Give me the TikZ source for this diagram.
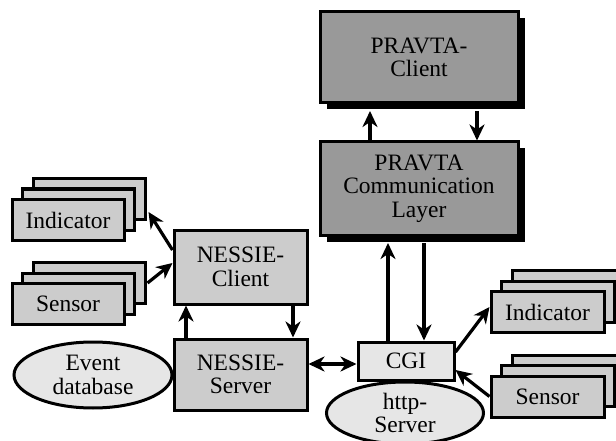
\documentclass[tikz,border=0pt]{standalone}
\usepackage{fontspec}
\setmainfont{Liberation Serif}
\usepackage{tikz}
\usetikzlibrary{arrows.meta, shapes.geometric, shadows}
\definecolor{darkbox}{HTML}{999999}
\definecolor{midbox}{HTML}{CCCCCC}
\definecolor{palebox}{HTML}{E6E6E6}

\begin{document}
\begin{tikzpicture}[x=1pt, y=-1pt,
    font=\fontsize{23.5}{23.5}\selectfont,
    every node/.style={align=center, inner sep=0pt, line width=3pt, draw=black},
    pravta/.style={rectangle, fill=darkbox, minimum width=198pt,
      drop shadow={opacity=1, fill=black, shadow xshift=6.5pt, shadow yshift=-6.5pt}},
    nessie/.style={rectangle, fill=midbox, minimum width=133pt},
    device/.style={rectangle, fill=midbox, minimum width=112pt, minimum height=41pt,
      double copy shadow={opacity=1, fill=midbox, draw=black, line width=3pt,
        shadow xshift=10.5pt, shadow yshift=10.5pt}},
    store/.style={ellipse, fill=palebox},
    arr/.style={-{Stealth[length=16pt, width=15pt, inset=5pt]}, line width=3.2pt}
]
  % Rahmen
  \useasboundingbox (0,0) rectangle (616,441);

  % PRAVTA
  \node[pravta, minimum height=91pt] (pclient) at (419,57.5) {PRAVTA-\\Client};
  \node[pravta, minimum height=93pt] (pcomm) at (419,188.5) {PRAVTA\\Communication\\Layer};

  % http-Server und CGI
  \node[store, minimum width=157pt, minimum height=62pt] (http) at (405,413) {http-\\Server};
  \node[rectangle, fill=palebox, minimum width=96pt, minimum height=38pt] (cgi) at (406,361) {CGI};

  % NESSIE
  \node[nessie, minimum height=74pt] (nclient) at (240.5,267) {NESSIE-\\Client};
  \node[nessie, minimum height=71pt] (nserver) at (240.5,374.5) {NESSIE-\\Server};
  \node[store, minimum width=158pt, minimum height=66pt] (eventdb) at (93,375) {Event\\database};

  % Indicator / Sensor Stapel
  \node[device] (indL) at (68,220) {Indicator};
  \node[device] (sensL) at (68,304) {Sensor};
  \node[device, minimum width=113pt] (indR) at (547.5,312) {Indicator};
  \node[device, minimum width=113pt] (sensR) at (547.5,396.5) {Sensor};

  % Pfeile PRAVTA
  \draw[arr] ([xshift=-49pt]pcomm.north) -- ([xshift=-49pt, yshift=-6.5pt]pclient.south);
  \draw[arr] ([xshift=58pt, yshift=-6.5pt]pclient.south) -- ([xshift=58pt]pcomm.north);
  \draw[arr] ([xshift=-18pt]cgi.north) -- ([xshift=-31pt, yshift=-6.5pt]pcomm.south);
  \draw[arr] ([xshift=5pt, yshift=-6.5pt]pcomm.south) -- ([xshift=18pt]cgi.north);

  % Pfeile NESSIE
  \draw[arr] ([xshift=-54.5pt]nserver.north) -- ([xshift=-54.5pt]nclient.south);
  \draw[arr] ([xshift=52.5pt]nclient.south) -- ([xshift=52.5pt]nserver.north);
  \draw[arr, {Stealth[length=16pt, width=15pt, inset=5pt]}-{Stealth[length=16pt, width=15pt, inset=5pt]}]
    ([yshift=-3pt]cgi.west -| nserver.east) -- ([yshift=-3pt]cgi.west);

  % Pfeile zu den Geraeten
  \draw[arr] ([yshift=17pt]nclient.west) -- ([xshift=23pt, yshift=8pt]indL.east);
  \draw[arr] ([xshift=22pt, yshift=21pt]sensL.east) -- ([yshift=4pt]nclient.west);
  \draw[arr] ([yshift=9pt]cgi.east) -- ([yshift=5pt]indR.west);
  \draw[arr] (sensR.west) -- ([yshift=-9pt]cgi.east);

\end{tikzpicture}
\end{document}
